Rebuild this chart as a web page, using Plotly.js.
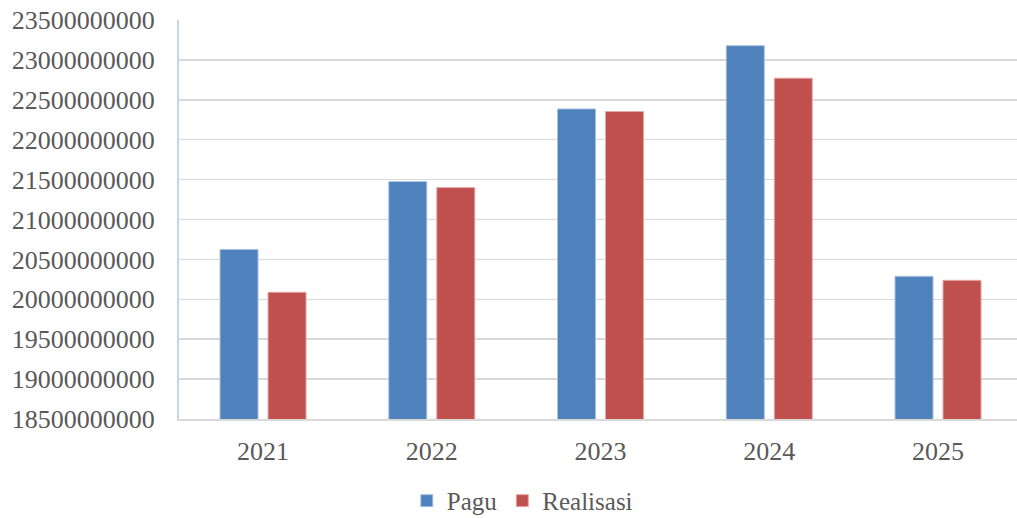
<!DOCTYPE html>
<html><head><meta charset="utf-8">
<script src="https://cdn.plot.ly/plotly-3.0.1.min.js"></script>
<style>html,body{margin:0;padding:0;background:#fff}#c{width:1017px;height:518px}</style>
</head><body><div id="c"></div>
<script>
const years = ['2021','2022','2023','2024','2025'];
const pagu = [20625000000, 21475000000, 22385000000, 23178000000, 20288000000];
const realisasi = [20088000000, 21400000000, 22353000000, 22771000000, 20238000000];
const yTicks = [18500000000,19000000000,19500000000,20000000000,20500000000,21000000000,21500000000,22000000000,22500000000,23000000000,23500000000];

const fam = '"Liberation Serif", "DejaVu Serif", serif';
const data = [
  {type:'bar', name:'Pagu', x:years, y:pagu, marker:{color:'#4f81bd', line:{color:'#a9c1e0', width:1}}},
  {type:'bar', name:'Realisasi', x:years, y:realisasi, marker:{color:'#c0504d', line:{color:'#e3a9a7', width:1}}}
];
const layout = {
  width:1017, height:518,
  margin:{l:179, r:0, t:20, b:99, autoexpand:false},
  paper_bgcolor:'#fff', plot_bgcolor:'#fff',
  barmode:'group', bargap:0.431, bargroupgap:0.208,
  font:{family:fam, size:26, color:'#595959'},
  showlegend:true,
  legend:{orientation:'h', xref:'container', yref:'container', x:0.400, xanchor:'left', y:0.033, yanchor:'middle',
          font:{family:fam, size:25, color:'#595959'}, itemwidth:30, traceorder:'normal', tracegroupgap:0},
  xaxis:{type:'category', range:[-0.498, 4.468], showgrid:false, showline:true, linecolor:'#d9d9d9', linewidth:2, ticks:'', ticklabelstandoff:8,
         tickfont:{family:fam, size:26, color:'#595959'}, zeroline:false},
  yaxis:{range:[18500000000, 23500000000], tickvals:yTicks, ticktext:yTicks.map(v=>String(v)), showgrid:true, gridcolor:'#d9d9d9', gridwidth:1.5,
         showline:true, linecolor:'#c6d6ec', linewidth:2, ticks:'', ticklabelstandoff:17,
         tickfont:{family:fam, size:26, color:'#595959'}, zeroline:false}
};
Plotly.newPlot('c', data, layout, {displayModeBar:false, staticPlot:true});
</script></body></html>
